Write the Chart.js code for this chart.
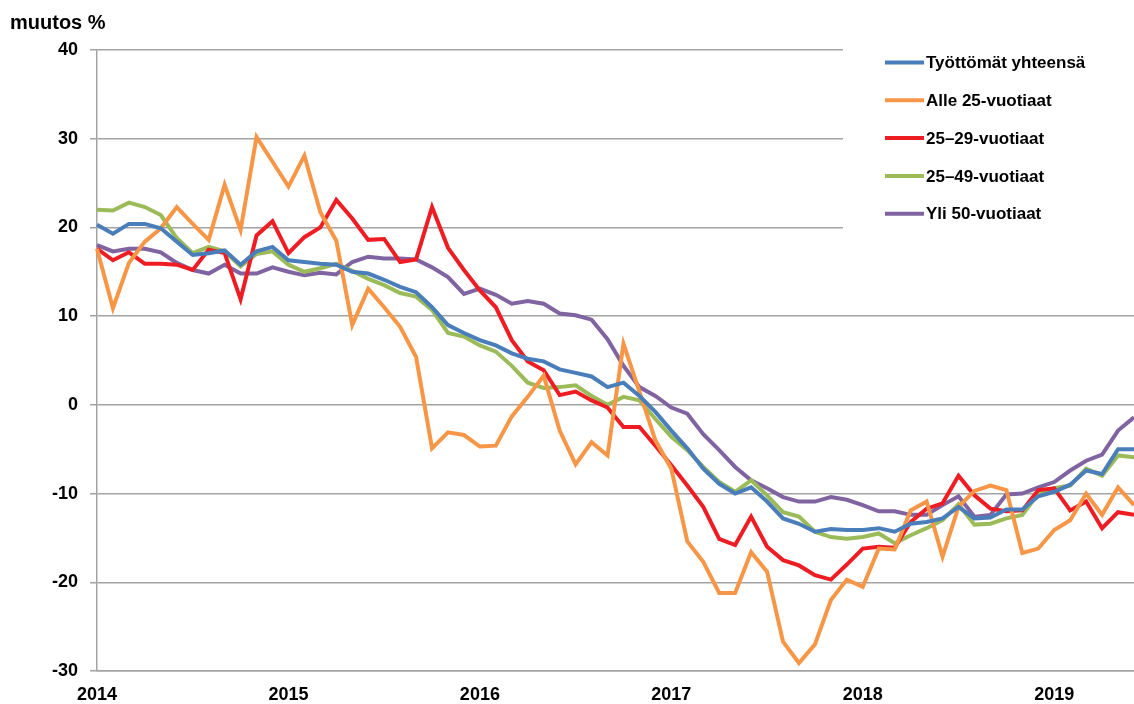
<!DOCTYPE html>
<html>
<head>
<meta charset="utf-8">
<script src="https://cdn.jsdelivr.net/npm/chart.js@4/dist/chart.umd.min.js"></script>
<style>
    html, body { margin: 0; padding: 0; background: #fff; }
    #wrap { width: 1134px; height: 704px; position: relative; }
</style>
</head>
<body>
<div id="wrap"><canvas id="muutos-graph"></canvas></div>
<script>
;(function () {
    'use strict';

    // monthly data, Jan 2014 .. Jun 2019
    var years      = ['2014', '2015', '2016', '2017', '2018', '2019'];
    var lastMonth  = 6;
    var yMin       = -30;
    var yMax       = 40;
    var yStep      = 10;

    var seriesNames = [
        'Työttömät yhteensä',
        'Alle 25-vuotiaat',
        '25–29-vuotiaat',
        '25–49-vuotiaat',
        'Yli 50-vuotiaat'
    ];

    var total = [
        20.3, 19.3, 20.4, 20.4, 19.9, 18.4, 16.9, 17.1, 17.4, 15.8, 17.3, 17.8,
        16.3, 16.1, 15.9, 15.8, 15.0, 14.8, 14.1, 13.3, 12.7, 11.0, 9.0, 8.1,
        7.3, 6.7, 5.8, 5.2, 4.9, 4.0, 3.6, 3.2, 2.0, 2.5, 1.0, -0.8,
        -2.9, -4.9, -7.2, -8.9, -10.0, -9.3, -10.9, -12.8, -13.4, -14.3, -14.0, -14.1,
        -14.1, -13.9, -14.3, -13.4, -13.2, -12.8, -11.5, -12.8, -12.7, -11.8, -11.8, -10.3,
        -9.8, -9.0, -7.4, -7.8, -5.0, -5.0
    ];

    var under25 = [
        17.6, 10.9, 16.0, 18.4, 19.9, 22.3, 20.4, 18.6, 24.8, 19.7, 30.2, 27.4,
        24.6, 28.1, 21.7, 18.5, 9.0, 13.1, 11.0, 8.8, 5.4, -4.9, -3.1, -3.4,
        -4.7, -4.6, -1.3, 0.9, 3.3, -2.9, -6.7, -4.2, -5.7, 6.9, 1.5, -4.0,
        -7.2, -15.4, -17.7, -21.2, -21.2, -16.6, -18.8, -26.7, -29.1, -27.0, -22.0, -19.7,
        -20.5, -16.2, -16.3, -11.9, -10.9, -17.1, -11.5, -9.7, -9.1, -9.6, -16.7, -16.2,
        -14.1, -13.0, -10.0, -12.4, -9.3, -11.3
    ];

    var age25to29 = [
        17.6, 16.3, 17.2, 15.9, 15.9, 15.8, 15.2, 17.5, 17.1, 11.9, 19.1, 20.7,
        17.1, 18.9, 20.0, 23.1, 21.0, 18.6, 18.7, 16.1, 16.4, 22.3, 17.7, 15.2,
        12.9, 11.0, 7.3, 4.9, 3.9, 1.1, 1.5, 0.5, -0.3, -2.5, -2.5, -4.6,
        -6.8, -9.1, -11.5, -15.1, -15.8, -12.6, -16.0, -17.5, -18.1, -19.2, -19.7, -18.0,
        -16.2, -16.0, -16.1, -13.2, -11.7, -11.1, -8.0, -10.2, -11.7, -12.0, -11.9, -9.6,
        -9.4, -11.9, -10.9, -13.9, -12.1, -12.4
    ];

    var age25to49 = [
        22.0, 21.9, 22.8, 22.3, 21.4, 18.8, 17.1, 17.8, 17.3, 15.6, 17.0, 17.3,
        15.8, 15.0, 15.4, 15.9, 15.1, 14.2, 13.5, 12.6, 12.2, 10.7, 8.1, 7.7,
        6.7, 6.0, 4.4, 2.5, 1.9, 2.0, 2.2, 1.0, 0.0, 0.9, 0.5, -1.6,
        -3.6, -5.1, -7.0, -8.7, -9.8, -8.5, -10.2, -12.1, -12.6, -14.3, -14.9, -15.1,
        -14.9, -14.5, -15.6, -14.7, -13.9, -13.0, -11.2, -13.5, -13.4, -12.8, -12.4, -10.0,
        -9.4, -9.1, -7.2, -8.0, -5.7, -5.9
    ];

    var over50 = [
        18.0, 17.3, 17.6, 17.6, 17.2, 16.0, 15.2, 14.8, 15.8, 14.8, 14.8, 15.5,
        15.0, 14.6, 14.9, 14.7, 16.1, 16.7, 16.5, 16.5, 16.4, 15.5, 14.4, 12.5,
        13.1, 12.4, 11.4, 11.7, 11.4, 10.3, 10.1, 9.6, 7.4, 4.4, 2.0, 1.0,
        -0.3, -1.0, -3.3, -5.1, -7.0, -8.5, -9.4, -10.4, -10.9, -10.9, -10.4, -10.7,
        -11.3, -12.0, -12.0, -12.4, -12.4, -11.3, -10.3, -12.6, -12.4, -10.1, -10.0, -9.3,
        -8.7, -7.4, -6.3, -5.6, -2.9, -1.4
    ];

    var colors = ['#4A7EBB', '#F79646', '#EE1D23', '#9BBB59', '#8064A2'];

    var months = [];
    years.forEach(function (y, i) {
        var n = (i === years.length - 1) ? lastMonth : 12;
        for (var m = 1; m <= n; m++) {
            months.push(y + '-' + (m < 10 ? '0' + m : String(m)));
        }
    });

    var fontFamily = '"Liberation Sans", Arial, sans-serif';
    var gridGray   = '#a3a3a3';

    // legend sits in a white box over the top right of the plot
    var legendBox = {
        id: 'legendBox',
        afterDraw: function (chart) {
            var ctx = chart.ctx;
            ctx.save();
            ctx.fillStyle = '#fff';
            ctx.fillRect(843, 38, 291, 200);
            ctx.font = 'bold 17px ' + fontFamily;
            ctx.textBaseline = 'middle';
            chart.data.datasets.forEach(function (ds, i) {
                var y = 62.5 + i * 37.8;
                ctx.strokeStyle = ds.borderColor;
                ctx.lineWidth = 4;
                ctx.beginPath();
                ctx.moveTo(885, y);
                ctx.lineTo(924, y);
                ctx.stroke();
                ctx.fillStyle = '#000';
                ctx.fillText(ds.label, 926, y + 1);
            });
            ctx.restore();
        }
    };

    var seriesData = [total, under25, age25to29, age25to49, over50];

    var muutosChart = new Chart(document.getElementById('muutos-graph'), {
        type: 'line',
        data: {
            labels: months,
            datasets: seriesData.map(function (d, i) {
                return {
                    label: seriesNames[i],
                    data: d,
                    borderColor: colors[i],
                    backgroundColor: colors[i],
                    borderWidth: 4,
                    pointRadius: 0,
                    tension: 0,
                    fill: false
                };
            })
        },
        options: {
            responsive: true,
            maintainAspectRatio: false,
            animation: false,
            layout: {
                padding: { left: 10, right: 0, top: 0, bottom: 0 }
            },
            plugins: {
                legend: { display: false },
                tooltip: { enabled: false },
                title: {
                    display: true,
                    text: 'muutos %',
                    align: 'start',
                    color: '#000',
                    font: { family: fontFamily, size: 20, weight: 'bold' },
                    padding: { top: 11, bottom: 15 }
                }
            },
            scales: {
                x: {
                    type: 'category',
                    grid: { display: true, drawOnChartArea: false, drawTicks: false },
                    border: { color: gridGray, width: 1.5 },
                    ticks: {
                        autoSkip: false,
                        maxRotation: 0,
                        padding: 13,
                        color: '#000',
                        font: { family: fontFamily, size: 18, weight: 'bold' },
                        callback: function (val, index) {
                            var lbl = months[index];
                            return lbl.slice(5) === '01' ? lbl.slice(0, 4) : '';
                        }
                    },
                    afterFit: function (scale) {
                        scale.height = 33;
                        scale.paddingRight = 0;
                    }
                },
                y: {
                    min: yMin,
                    max: yMax,
                    ticks: {
                        stepSize: yStep,
                        padding: 12,
                        color: '#000',
                        font: { family: fontFamily, size: 18, weight: 'bold' }
                    },
                    grid: { color: gridGray, lineWidth: 1.5, tickLength: 7 },
                    border: { color: gridGray, width: 1.5 },
                    afterFit: function (scale) { scale.width = 87; }
                }
            }
        },
        plugins: [legendBox]
    });
})();
</script>
</body>
</html>
